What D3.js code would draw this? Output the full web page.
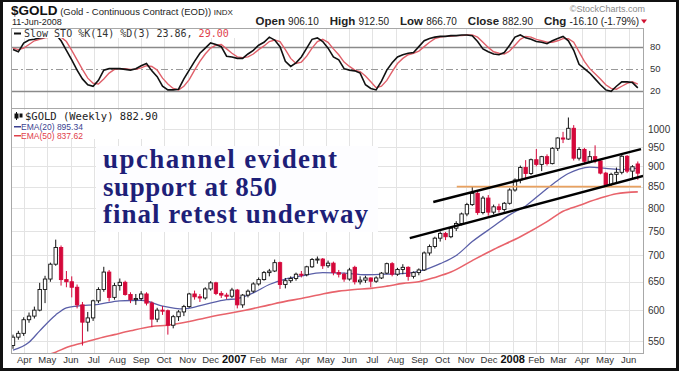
<!DOCTYPE html>
<html>
<head>
<meta charset="utf-8">
<script src="https://d3js.org/d3.v7.min.js"></script>
<style>
  body { margin: 0; background: #fff; }
  text { font-family: Arial, "Liberation Sans", sans-serif; }
  .grid { stroke: #e3e3e3; stroke-width: 1; shape-rendering: crispEdges; }
  .panel { fill: none; stroke: #a8a8a8; shape-rendering: crispEdges; }
  .mono { font-family: "DejaVu Sans Mono", "Liberation Mono", monospace; }
  .note { font-family: "Liberation Serif", "DejaVu Serif", serif; font-weight: bold; }
</style>
</head>
<body>
<svg id="chart" width="680" height="371"></svg>
<script>
// weekly candles, Mar 17 2006 .. Jun 13 2008 (118 weeks)
const opens = [543,556,562,584,590,600,636,655,683,716,654,650,640,609,580,587,616,636,668,622,643,649,627,618,620,628,612,585,600,599,575,589,597,606,628,623,621,637,648,629,626,624,
  635,609,626,633,646,654,667,670,686,645,652,656,664,663,678,692,693,680,685,667,664,655,677,650,653,657,651,657,666,684,664,673,677,660,667,672,705,718,735,745,738,756,766,787,808,834,790,823,791,803,797,811,
  842,866,897,882,917,905,925,907,947,975,972,1002,921,944,913,925,914,883,855,880,885,926,888,906.1];
const highs = [560,566,588,596,606,648,661,686,732,720,670,660,645,614,597,618,640,678,672,648,656,652,631,628,633,631,615,604,607,601,592,600,609,630,634,628,640,651,650,633,630,639,
  637,628,636,649,658,670,674,692,688,657,660,667,670,680,695,698,695,690,688,672,667,676,680,660,661,658,660,668,686,687,676,683,679,669,675,708,722,738,749,748,760,771,790,812,850,838,828,830,808,810,814,846,
  870,902,916,920,945,927,931,950,977,992,1033,1011,950,948,940,955,917,886,884,897,929,929,903,912.5];
const lows = [538,552,558,579,586,598,612,650,680,643,640,622,603,543,565,582,612,632,615,618,634,625,612,609,616,608,572,580,592,560,570,582,590,604,618,614,618,634,626,621,619,621,
  603,604,622,630,643,652,660,668,637,638,648,652,658,660,676,684,674,676,662,658,650,652,645,645,648,640,648,655,664,660,661,664,652,656,662,670,700,714,728,731,735,750,762,782,805,785,786,783,786,790,792,808,
  838,858,870,878,900,888,902,905,940,961,970,915,915,905,908,908,880,852,850,860,880,883,870,866.7];
const closes = [556,562,584,590,600,636,655,683,716,654,650,640,609,580,587,616,636,668,622,643,649,627,618,620,628,612,585,600,599,575,589,597,606,628,623,621,637,648,629,626,624,635,
  609,626,633,646,654,667,670,686,645,652,656,664,663,678,692,693,680,685,667,664,655,672,650,653,657,651,657,666,684,664,673,677,660,667,672,705,718,735,745,738,756,766,787,808,834,790,823,791,803,797,811,842,
  866,897,882,917,905,925,907,947,975,972,1002,921,944,913,925,914,883,855,880,885,926,888,899,882.9];

// moving averages at a few weeks (week index, price)
const ema20Weeks = [0,3,5,8,10,12,16,20,24,28,32,36,40,42,45,48,51,54,58,62,66,70,74,77,80,83,86,90,93,96,99,102,104,106,108,111,114,117];
const ema20Vals  = [536,548,566,592,604,607,610,616,617,607,602,610,618,620,630,645,655,661,667,666,663,664,666,672,684,700,728,760,785,805,835,865,882,893,898,895,892,895.34];
const ema50Weeks = [0,4,8,10,13,16,19,22,26,29,33,36,40,43,48,51,54,58,61,64,67,70,73,76,79,82,86,90,95,100,103,106,110,113,117];
const ema50Vals  = [518,524,533,540,547,554,560,566,573,575,581,587,594,599,609,615,620,628,633,636,638,642,647,650,658,668,690,712,738,770,793,806,823,833,837.62];

// slow stochastics, one value per week
const stochK = [76,73,85,89,90,92,93,94,97,88,75,62,48,36,28,26,34,48,50,50,50,49,48,50,54,57,47,39,26,21,21,22,36,48,60,71,78,85,83,80,67,66,
  64,64,70,75,82,86,93,89,80,60,53,58,66,78,90,92,87,78,66,62,50,48,47,44,28,23,21,33,48,58,66,69,71,72,80,88,91,93,94,94,95,95,96,96,95,87,77,73,70,69,72,82,
  93,96,92,90,87,86,84,88,91,94,88,75,56,50,44,36,28,21,19,26,32,32,31,23.86];
const stochD = [78,76,78,83,88,90,92,93,95,93,87,75,62,49,37,30,29,36,44,49,50,50,49,49,51,54,53,48,37,29,23,21,26,35,48,60,70,78,82,83,77,71,
  66,65,66,70,76,81,87,89,87,76,64,57,59,67,78,87,90,86,77,69,59,53,48,46,40,32,24,26,34,46,57,64,69,71,74,80,86,91,93,94,94,95,95,96,96,93,86,79,73,71,70,74,
  82,90,94,93,90,88,86,86,88,91,91,86,73,60,50,43,36,28,23,22,26,30,32,29];

const priceTicks = [550,600,650,700,750,800,850,900,950,1000];
const stochLevels = [80,50,20];

// hand drawn channel, support line (week index, price)
const upperChannel = [[78.7,814],[117.6,945]];
const lowerChannel = [[74.3,735],[118,876]];
const supportLine  = [[83.1,850],[117.6,850]];

const fridays = d3.timeFriday.range(new Date(2006,2,17), new Date(2008,5,14));
const months = d3.timeMonth.range(new Date(2006,3,1), new Date(2008,5,2));

const svg = d3.select("#chart");
const L = 11, R = 643;
const stochTop = 28, stochBot = 108, mainTop = 108, mainBot = 353;

const x = d3.scaleTime().domain([fridays[0], fridays[fridays.length-1]]).range([13, 637.8]);
const xi = d3.scaleLinear().domain([0, fridays.length-1]).range([13, 637.8]);
const y = d3.scaleLog().domain([550,1000]).range([341,129]);
const ys = d3.scaleLinear().domain([0,100]).range([105.3,32]);

svg.append("rect").attr("width",680).attr("height",371).attr("fill","#fff");

const defs = svg.append("defs");
defs.append("clipPath").attr("id","clipMain").append("rect")
  .attr("x",L).attr("y",mainTop).attr("width",R-L).attr("height",mainBot-mainTop);
defs.append("clipPath").attr("id","clipStoch").append("rect")
  .attr("x",L).attr("y",stochTop).attr("width",R-L).attr("height",stochBot-stochTop);

// grid
const grid = svg.append("g");
grid.selectAll("line.vm").data(months).join("line").attr("class","grid")
  .attr("x1",d=>Math.round(x(d))+0.5).attr("x2",d=>Math.round(x(d))+0.5).attr("y1",mainTop).attr("y2",mainBot);
grid.selectAll("line.vs").data(months).join("line").attr("class","grid")
  .attr("x1",d=>Math.round(x(d))+0.5).attr("x2",d=>Math.round(x(d))+0.5).attr("y1",stochTop).attr("y2",stochBot);
grid.selectAll("line.hp").data(priceTicks).join("line").attr("class","grid")
  .attr("x1",L).attr("x2",R).attr("y1",d=>Math.round(y(d))+0.5).attr("y2",d=>Math.round(y(d))+0.5);

// stochastic panel
const st = svg.append("g");
st.selectAll("line.lvl").data(stochLevels).join("line")
  .attr("x1",L).attr("x2",R).attr("y1",d=>Math.round(ys(d))+0.5).attr("y2",d=>Math.round(ys(d))+0.5)
  .attr("stroke",d=>d===50?"#999":"#8a8a8a").attr("stroke-width",d=>d===50?1:1.3)
  .attr("stroke-dasharray",d=>d===50?"7,3,2,3":null);
const stLine = arr => d3.line().x((d,i)=>xi(i)).y(d=>ys(d))(arr);
const stg = st.append("g").attr("clip-path","url(#clipStoch)");
stg.append("path").attr("d",stLine(stochD)).attr("fill","none").attr("stroke","#e0606a").attr("stroke-width",1.4);
stg.append("path").attr("d",stLine(stochK)).attr("fill","none").attr("stroke","#111").attr("stroke-width",1.6);
st.selectAll("text.lvl").data(stochLevels).join("text")
  .attr("x",650).attr("y",d=>ys(d)).attr("dy","0.35em").attr("font-size",9.5).attr("fill","#333").text(d=>d);
st.append("rect").attr("class","panel").attr("x",L+0.5).attr("y",stochTop+0.5).attr("width",R-L).attr("height",stochBot-stochTop);

// main panel
const mg = svg.append("g").attr("clip-path","url(#clipMain)");

// annotation backdrop
mg.append("rect").attr("x",96).attr("y",146).attr("width",282).attr("height",86).attr("fill","#fdfdff");

const emaLine = d3.line().x(d=>xi(d[0])).y(d=>y(d[1])).curve(d3.curveMonotoneX);
mg.append("path").attr("d",emaLine(d3.zip(ema50Weeks,ema50Vals))).attr("fill","none").attr("stroke","#e8636b").attr("stroke-width",1.6);
mg.append("path").attr("d",emaLine(d3.zip(ema20Weeks,ema20Vals))).attr("fill","none").attr("stroke","#5a5fa8").attr("stroke-width",1.3);

const candles = fridays.map((d,i)=>({i, o:opens[i], h:highs[i], l:lows[i], c:closes[i]}));
const cw = 3.4;
const cg = mg.append("g").selectAll("g").data(candles).join("g");
cg.append("line")
  .attr("x1",d=>xi(d.i)).attr("x2",d=>xi(d.i)).attr("y1",d=>y(d.h)).attr("y2",d=>y(d.l))
  .attr("stroke",d=>d.c<d.o?"#d4083a":"#111").attr("stroke-width",1);
cg.append("rect")
  .attr("x",d=>xi(d.i)-cw/2).attr("width",cw)
  .attr("y",d=>y(Math.max(d.o,d.c))).attr("height",d=>Math.max(1,Math.abs(y(d.o)-y(d.c))))
  .attr("fill",d=>d.c<d.o?"#d4083a":"#fff").attr("stroke",d=>d.c<d.o?"#d4083a":"#111").attr("stroke-width",0.9);

const tl = d3.line().x(d=>xi(d[0])).y(d=>y(d[1]));
mg.append("path").attr("d",tl(supportLine)).attr("stroke","#e9a15f").attr("stroke-width",1.8).attr("fill","none");
mg.append("path").attr("d",tl(upperChannel)).attr("stroke","#000").attr("stroke-width",2.4).attr("fill","none");
mg.append("path").attr("d",tl(lowerChannel)).attr("stroke","#000").attr("stroke-width",2.4).attr("fill","none");

svg.append("rect").attr("class","panel").attr("x",L+0.5).attr("y",mainTop+0.5).attr("width",R-L).attr("height",mainBot-mainTop);

// price axis
svg.selectAll("text.pt").data(priceTicks).join("text")
  .attr("x",648).attr("y",d=>y(d)).attr("dy","0.35em").attr("font-size",10).attr("fill","#333").text(d=>d);

// month axis
svg.selectAll("text.mt").data(months).join("text")
  .attr("x",d=>x(d)).attr("y",363).attr("text-anchor","middle")
  .attr("font-size",d=>d.getMonth()===0?11:9.5)
  .attr("font-weight",d=>d.getMonth()===0?"bold":"normal")
  .attr("fill",d=>d.getMonth()===0?"#111":"#333")
  .text(d=>d.getMonth()===0?d.getFullYear():d3.timeFormat("%b")(d));

// header
const h1 = svg.append("text").attr("x",11).attr("y",15);
h1.append("tspan").attr("font-size",13.5).attr("font-weight","bold").attr("fill","#111").text("$GOLD");
h1.append("tspan").attr("font-size",9.5).attr("fill","#222").text(" (Gold - Continuous Contract (EOD)) ");
h1.append("tspan").attr("font-size",8).attr("fill","#222").text("INDX");
svg.append("text").attr("x",12).attr("y",25).attr("font-size",9).attr("fill","#222").text("11-Jun-2008");
svg.append("text").attr("x",645).attr("y",12).attr("text-anchor","end").attr("font-size",9).attr("fill","#888").text("\u00A9StockCharts.com");

const q = svg.append("text").attr("x",639).attr("y",25).attr("text-anchor","end").attr("fill","#222")
  .style("white-space","pre");
[["Open","906.10"],["High","912.50"],["Low","866.70"],["Close","882.90"],["Chg","-16.10 (-1.79%)"]].forEach(([k,v],j)=>{
  q.append("tspan").attr("font-weight","bold").attr("font-size",11.5).attr("dx",j?11:0).text(k+" ");
  q.append("tspan").attr("font-size",10).text(v);
});
svg.append("path").attr("d","M641,19.5 L647,19.5 L644,23.5 Z").attr("fill","#d01030");

// stochastic legend
svg.append("rect").attr("x",12).attr("y",29).attr("width",226).attr("height",9).attr("fill","#fff");
svg.append("rect").attr("x",14).attr("y",32.5).attr("width",7).attr("height",2).attr("fill","#111");
const sl = svg.append("text").attr("class","mono").attr("x",24).attr("y",37).attr("font-size",10);
sl.append("tspan").attr("fill","#333").text("Slow STO %K(14) %D(3) 23.86, ");
sl.append("tspan").attr("fill","#e0404a").text("29.00");

// main legend
svg.append("rect").attr("x",12).attr("y",110).attr("width",150).attr("height",29).attr("fill","#fff");
svg.append("line").attr("x1",16.5).attr("x2",16.5).attr("y1",112).attr("y2",120).attr("stroke","#111");
svg.append("rect").attr("x",14.5).attr("y",113.5).attr("width",4).attr("height",5).attr("fill","#111");
svg.append("rect").attr("x",19.5).attr("y",113.5).attr("width",3).attr("height",4).attr("fill","#111");
svg.append("text").attr("class","mono").attr("x",25).attr("y",120).attr("font-size",10.5).attr("fill","#222").text("$GOLD (Weekly) 882.90");
svg.append("rect").attr("x",14).attr("y",126).attr("width",7).attr("height",1.5).attr("fill","#3a3f90");
svg.append("text").attr("x",21).attr("y",129.5).attr("font-size",8.5).attr("fill","#3a3f90").text("EMA(20) 895.34");
svg.append("rect").attr("x",14).attr("y",135).attr("width",7).attr("height",1.5).attr("fill","#e0404a");
svg.append("text").attr("x",21).attr("y",138.5).attr("font-size",8.5).attr("fill","#e0404a").text("EMA(50) 837.62");

// annotation
const notes = ["upchannel evident","support at 850","final retest underway"];
const noteW = [234,174,265];
svg.selectAll("text.note").data(notes).join("text").attr("class","note")
  .attr("x",103).attr("y",(d,i)=>168+i*27.5)
  .attr("font-size",27).attr("fill","#1e1f78")
  .attr("textLength",(d,i)=>noteW[i]).attr("lengthAdjust","spacing")
  .text(d=>d);

// outer frame
svg.append("rect").attr("x",1.5).attr("y",0.5).attr("width",676).attr("height",369).attr("fill","none").attr("stroke","#111").attr("stroke-width",3);
</script>
</body>
</html>
